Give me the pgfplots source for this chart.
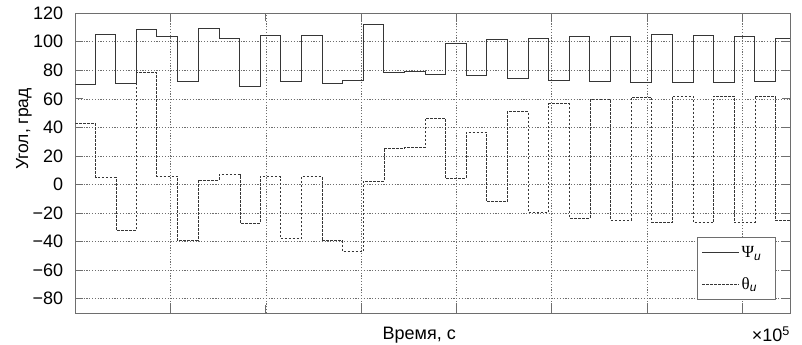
\documentclass[border=0pt]{standalone}
\usepackage{fontspec}
\setmainfont{Liberation Sans}
\newfontfamily\grk{Liberation Serif}
\usepackage{pgfplots}
\pgfplotsset{compat=1.18}
\definecolor{lc}{HTML}{363636}
\definecolor{gc}{HTML}{6E6E6E}
\begin{document}
\begin{tikzpicture}
\begin{axis}[
  scale only axis,
  width=714.7bp, height=299.8bp,
  xmin=0, xmax=7.5, ymin=-90, ymax=120,
  xtick={1,2,3,4,5,6,7}, xticklabels={},
  ytick={-80,-60,-40,-20,0,20,40,60,80,100,120},
  yticklabels={−80,−60,−40,−20,0,20,40,60,80,100,120},
  yticklabel style={font=\fontsize{18bp}{20bp}\selectfont, anchor=east, inner sep=0pt, xshift=-12bp},
  grid=major,
  major grid style={gc, dash pattern=on 1.2bp off 1.6bp, line width=0.6bp},
  axis line style={gc, line width=0.9bp},
  tick style={gc, line width=0.9bp},
  tick align=inside, major tick length=8bp,
  legend style={at={(0.98,0.0434)}, anchor=south east, draw=gc, line width=0.7bp, fill=white,
    font=\fontsize{17bp}{19bp}\selectfont, inner xsep=4bp, inner ysep=7bp, row sep=14bp},
  legend cell align=left,
  legend image code/.code={\draw[#1] (0bp,0bp) -- (37bp,0bp);},
]
\addplot[const plot, lc, line width=1.0bp] coordinates {
(0,70) (0.214,105) (0.427,70.5) (0.637,108.5) (0.854,103.5) (1.07,72.5) (1.288,109) (1.508,102.5)
(1.728,69) (1.941,104.5) (2.155,72) (2.372,104.3) (2.589,71) (2.806,73) (3.022,112) (3.239,78.5)
(3.456,79) (3.673,77) (3.882,99) (4.1,76.5) (4.317,101.5) (4.533,74.5) (4.753,102.5) (4.967,73)
(5.184,104) (5.401,72.5) (5.618,104) (5.831,71.5) (6.051,105) (6.269,71.5) (6.485,104.5) (6.699,71.5)
(6.915,104) (7.132,72.5) (7.345,102) (7.5,102)
};
\addlegendentry{{\grk Ψ}\textsubscript{\textit{u}}\hspace*{8bp}}
\addplot[const plot, lc, line width=0.85bp, dash pattern=on 2.6bp off 1.4bp] coordinates {
(0,42.5) (0.214,5) (0.427,-32) (0.637,78.5) (0.854,6) (1.07,-39) (1.288,3) (1.508,7)
(1.728,-27) (1.941,5.5) (2.155,-38) (2.372,5.5) (2.589,-39.5) (2.806,-47) (3.022,2.5) (3.239,25.5)
(3.456,26) (3.673,46.5) (3.882,4.5) (4.1,36.5) (4.317,-12) (4.533,51) (4.753,-19.5) (4.967,56.5)
(5.184,-23.5) (5.401,59.5) (5.618,-25) (5.831,61) (6.051,-26.5) (6.269,62) (6.485,-26.5) (6.699,62)
(6.915,-26.5) (7.132,62) (7.345,-25) (7.5,-25)
};
\addlegendentry{{\grk θ}\textsubscript{\textit{u}}\hspace*{8bp}}
\end{axis}
\node[rotate=90, font=\fontsize{17.5bp}{19bp}\selectfont] at (-51.3bp,184bp) {Угол, град};
\node[anchor=base, font=\fontsize{18bp}{20bp}\selectfont] at (344bp,-26.3bp) {Время, с};
\node[anchor=base east, font=\fontsize{18bp}{20bp}\selectfont, inner sep=0pt] at (714.7bp,-28.7bp) {×10\textsuperscript{5}};
\pgfresetboundingbox
\useasboundingbox (-75.3bp,-32bp) rectangle (726.7bp,313bp);
\end{tikzpicture}
\end{document}
